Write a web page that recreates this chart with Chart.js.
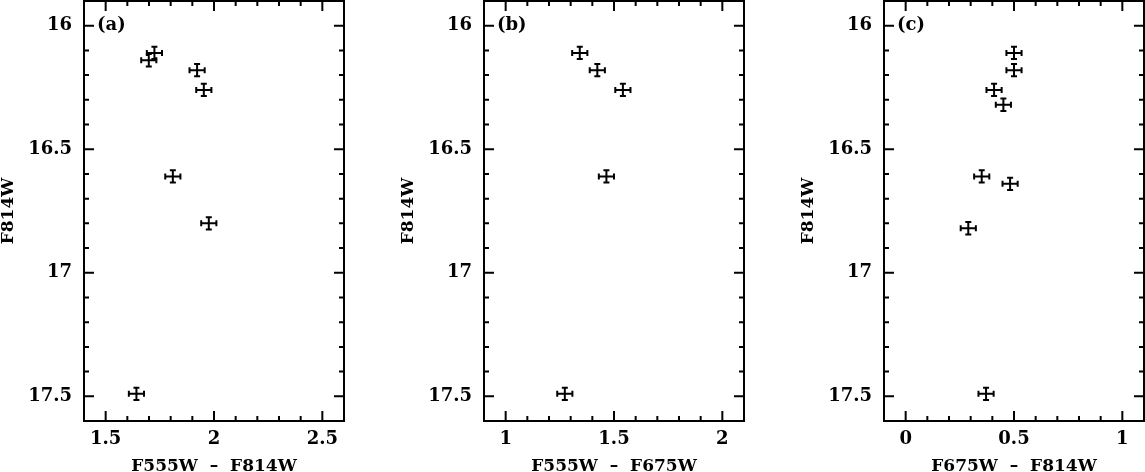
<!DOCTYPE html>
<html lang="en">
<head>
<meta charset="UTF-8">
<title>F814W - paineis de cor</title>
<script src="https://cdn.jsdelivr.net/npm/chart.js"></script>
<style>
    html, body { margin: 0; padding: 0; background: #fff; overflow: hidden; }
    body { width: 1145px; height: 472px; position: relative; }
    .painel { position: absolute; top: 0; }
</style>
</head>
<body>
<canvas id="graficoA" class="painel" width="400" height="472" style="left:0px"></canvas>
<canvas id="graficoB" class="painel" width="400" height="472" style="left:400px"></canvas>
<canvas id="graficoC" class="painel" width="400" height="472" style="left:800px"></canvas>
<script>
    // painel (a): F555W - F814W
    var corA = [1.725, 1.699, 1.922, 1.953, 1.810, 1.976, 1.642];
    var magA = [16.11, 16.14, 16.18, 16.26, 16.61, 16.80, 17.49];
    var erroCorA = [0.035, 0.035, 0.035, 0.035, 0.035, 0.035, 0.035];
    var erroMagA = [0.025, 0.025, 0.025, 0.025, 0.025, 0.025, 0.025];

    // painel (b): F555W - F675W
    var corB = [1.342, 1.423, 1.541, 1.465, 1.273];
    var magB = [16.11, 16.18, 16.26, 16.61, 17.49];
    var erroCorB = [0.035, 0.035, 0.035, 0.035, 0.035];
    var erroMagB = [0.025, 0.025, 0.025, 0.025, 0.025];

    // painel (c): F675W - F814W
    var corC = [0.500, 0.500, 0.408, 0.451, 0.351, 0.482, 0.289, 0.371];
    var magC = [16.11, 16.18, 16.26, 16.32, 16.61, 16.64, 16.82, 17.49];
    var erroCorC = [0.035, 0.035, 0.035, 0.035, 0.035, 0.035, 0.035, 0.035];
    var erroMagC = [0.025, 0.025, 0.025, 0.025, 0.025, 0.025, 0.025, 0.025];

    var ticksMag = [16, 16.5, 17, 17.5];
    var ticksCorA = [1.5, 2, 2.5];
    var ticksCorB = [1, 1.5, 2];
    var ticksCorC = [0, 0.5, 1];

    var fonte = 'DejaVu Serif';

    function passos(min, max, passo) {
        var lista = [];
        for (var k = Math.ceil(min / passo - 1e-6); k * passo <= max + 1e-6; k++) {
            lista.push(Math.round(k * passo * 1000) / 1000);
        }
        return lista;
    }

    function ehMaior(v) {
        return Math.abs(v * 2 - Math.round(v * 2)) < 1e-6;
    }

    // moldura com ticks para dentro, barras de erro e rotulo do painel
    var molduraPlugin = {
        id: 'moldura',
        afterDatasetsDraw: function (chart, args, opts) {
            var ctx = chart.ctx;
            var area = chart.chartArea;
            var sx = chart.scales.x;
            var sy = chart.scales.y;
            ctx.save();
            ctx.strokeStyle = '#000';
            ctx.fillStyle = '#000';
            ctx.lineWidth = 2;
            ctx.lineCap = 'butt';

            // barras de erro
            var pontos = chart.data.datasets[0].data;
            var cap = 3;
            ctx.beginPath();
            for (var i = 0; i < pontos.length; i++) {
                var p = pontos[i];
                var px = sx.getPixelForValue(p.x);
                var py = sy.getPixelForValue(p.y);
                var x1 = sx.getPixelForValue(p.x - p.ex);
                var x2 = sx.getPixelForValue(p.x + p.ex);
                var y1 = sy.getPixelForValue(p.y - p.ey);
                var y2 = sy.getPixelForValue(p.y + p.ey);
                ctx.moveTo(x1, py); ctx.lineTo(x2, py);
                ctx.moveTo(px, y1); ctx.lineTo(px, y2);
                ctx.moveTo(x1, py - cap); ctx.lineTo(x1, py + cap);
                ctx.moveTo(x2, py - cap); ctx.lineTo(x2, py + cap);
                ctx.moveTo(px - cap, y1); ctx.lineTo(px + cap, y1);
                ctx.moveTo(px - cap, y2); ctx.lineTo(px + cap, y2);
            }
            ctx.stroke();

            // ticks
            ctx.beginPath();
            passos(sx.min, sx.max, 0.1).forEach(function (v) {
                var t = ehMaior(v) ? 10 : 5;
                var x = sx.getPixelForValue(v);
                ctx.moveTo(x, area.bottom); ctx.lineTo(x, area.bottom - t);
                ctx.moveTo(x, area.top); ctx.lineTo(x, area.top + t);
            });
            passos(sy.min, sy.max, 0.1).forEach(function (v) {
                var t = ehMaior(v) ? 10 : 5;
                var y = sy.getPixelForValue(v);
                ctx.moveTo(area.left, y); ctx.lineTo(area.left + t, y);
                ctx.moveTo(area.right, y); ctx.lineTo(area.right - t, y);
            });
            ctx.stroke();

            ctx.strokeRect(area.left, area.top, area.right - area.left, area.bottom - area.top);

            ctx.font = 'bold 18px "' + fonte + '"';
            ctx.textAlign = 'left';
            ctx.textBaseline = 'middle';
            ctx.fillText(opts.rotulo, area.left + 13, sy.getPixelForValue(16));
            ctx.restore();
        }
    };

    function montarPontos(cores, mags, erroCor, erroMag) {
        var lista = [];
        for (var i = 0; i < cores.length; i++) {
            lista.push({ x: cores[i], y: mags[i], ex: erroCor[i], ey: erroMag[i] });
        }
        return lista;
    }

    function plotarPainel(id, rotulo, tituloX, minX, maxX, ticksX, pontos) {
        new Chart(document.getElementById(id), {
            type: 'scatter',
            data: {
                datasets: [{
                    data: pontos,
                    pointRadius: 0,
                    showLine: false
                }]
            },
            options: {
                responsive: false,
                animation: false,
                layout: { padding: { top: 1, right: 56, left: 0, bottom: 0 } },
                plugins: {
                    legend: { display: false },
                    tooltip: { enabled: false },
                    moldura: { rotulo: rotulo }
                },
                scales: {
                    x: {
                        type: 'linear',
                        min: minX,
                        max: maxX,
                        afterBuildTicks: function (s) { s.ticks = ticksX.map(function (v) { return { value: v }; }); },
                        afterFit: function (s) {
                            s.height = 51;
                            s.paddingLeft = 0;
                            s.paddingRight = 0;
                        },
                        grid: { display: false, drawTicks: false },
                        border: { display: false },
                        ticks: {
                            color: '#000',
                            padding: 8,
                            maxRotation: 0,
                            autoSkip: false,
                            font: { family: fonte, size: 18, weight: 'bold' },
                            callback: function (v) { return String(v); }
                        },
                        title: {
                            display: true,
                            text: tituloX,
                            color: '#000',
                            font: { family: fonte, size: 17, weight: 'bold', lineHeight: 1 },
                            padding: { top: 0, bottom: -3 }
                        }
                    },
                    y: {
                        type: 'linear',
                        reverse: true,
                        min: 15.9,
                        max: 17.6,
                        afterBuildTicks: function (s) { s.ticks = ticksMag.map(function (v) { return { value: v }; }); },
                        afterFit: function (s) {
                            s.width = 84;
                            s.paddingTop = 0;
                            s.paddingBottom = 0;
                        },
                        grid: { display: false, drawTicks: false },
                        border: { display: false },
                        ticks: {
                            color: '#000',
                            padding: 12,
                            autoSkip: false,
                            font: { family: fonte, size: 18, weight: 'bold' },
                            callback: function (v) { return String(v); }
                        },
                        title: {
                            display: true,
                            text: 'F814W',
                            color: '#000',
                            font: { family: fonte, size: 17, weight: 'bold', lineHeight: 1 },
                            padding: { top: 0, bottom: 0 }
                        }
                    }
                }
            },
            plugins: [molduraPlugin]
        });
    }

    plotarPainel('graficoA', '(a)', 'F555W  \u2013  F814W', 1.4, 2.6, ticksCorA, montarPontos(corA, magA, erroCorA, erroMagA));
    plotarPainel('graficoB', '(b)', 'F555W  \u2013  F675W', 0.9, 2.1, ticksCorB, montarPontos(corB, magB, erroCorB, erroMagB));
    plotarPainel('graficoC', '(c)', 'F675W  \u2013  F814W', -0.1, 1.1, ticksCorC, montarPontos(corC, magC, erroCorC, erroMagC));
</script>
</body>
</html>
